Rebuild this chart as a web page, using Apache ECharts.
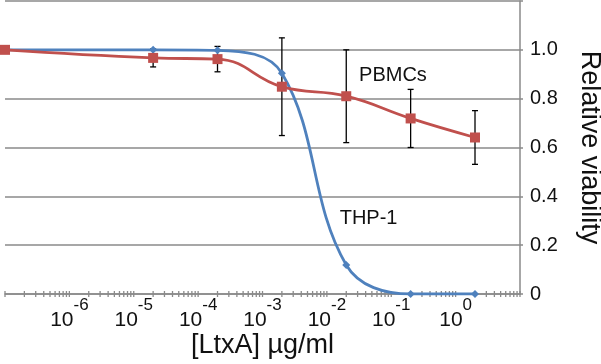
<!DOCTYPE html>
<html>
<head>
<meta charset="utf-8">
<script src="https://cdn.jsdelivr.net/npm/echarts@6/dist/echarts.min.js"></script>
<style>
html,body{margin:0;padding:0;background:#fff;}
#chart{width:601px;height:364px;}
</style>
</head>
<body>
<div id="chart"></div>
<script>
// concentrations (µg/ml); first point is the untreated control placed at the axis minimum
var concentrations = [1e-7, 2e-5, 2e-4, 2e-3, 2e-2, 2e-1, 2];
var thp1Values = [1.0, 1.0, 0.998, 0.904, 0.119, 0.0, 0.0];
var pbmcValues = [1.0, 0.967, 0.962, 0.849, 0.810, 0.719, 0.641];
var pbmcErrors = [0, 0.037, 0.052, 0.2, 0.19, 0.119, 0.11];
var yTickLabels = ['0', '0.2', '0.4', '0.6', '0.8', '1.0', ''];
var decadeExponents = [-7, -6, -5, -4, -3, -2, -1, 0];
var minorMultipliers = [1, 2, 3, 4, 5, 6, 7, 8, 9];
var annotations = [
  {text: 'PBMCs', x: 0.0316, y: 0.893},
  {text: 'THP-1', x: 0.0158, y: 0.311}
];

var GREY = '#8a8a8a';
var tickValues = [];
decadeExponents.forEach(function (e) {
  minorMultipliers.forEach(function (m) { tickValues.push([m * Math.pow(10, e), 0]); });
});
tickValues.push([10, 0]);

function pair(xs, ys) { return xs.map(function (x, i) { return [x, ys[i]]; }); }

var chart = echarts.init(document.getElementById('chart'), null, {renderer: 'canvas'});
chart.setOption({
  animation: false,
  backgroundColor: '#fff',
  textStyle: {fontFamily: 'Liberation Sans, Arial, sans-serif'},
  grid: {left: 5, right: 81, top: 1, bottom: 70, outerBoundsMode: 'none', containLabel: false},
  xAxis: {
    type: 'log', logBase: 10, min: 1e-7, max: 10,
    name: '[LtxA] µg/ml', nameLocation: 'middle', nameGap: 38, nameMoveOverlap: false,
    nameTextStyle: {fontSize: 27, color: '#111', fontFamily: 'Liberation Sans'},
    axisLine: {show: true, lineStyle: {color: GREY, width: 1.5}},
    axisTick: {show: false},
    splitLine: {show: false},
    axisLabel: {
      margin: 3,
      formatter: function (v) {
        var e = Math.round(Math.log10(v));
        if (e < -6 || e > 0) return '';
        return '{b|10}{s|' + e + '}';
      },
      rich: {
        b: {fontSize: 21, lineHeight: 34, verticalAlign: 'bottom', color: '#111', fontFamily: 'Liberation Sans'},
        s: {fontSize: 17, lineHeight: 20, verticalAlign: 'top', color: '#111', fontFamily: 'Liberation Sans'}
      }
    }
  },
  yAxis: {
    type: 'value', position: 'right', min: 0, max: 1.2, interval: 0.2,
    name: 'Relative viability', nameLocation: 'middle', nameRotate: -90, nameGap: 56, nameMoveOverlap: false,
    nameTextStyle: {fontSize: 27, color: '#111', fontFamily: 'Liberation Sans'},
    axisLine: {show: true, lineStyle: {color: GREY, width: 1.5}},
    axisTick: {show: true, length: 3, lineStyle: {color: GREY, width: 1.5}},
    splitLine: {show: true, lineStyle: {color: GREY, width: 1.5}},
    axisLabel: {
      margin: 10, fontSize: 20, color: '#111',
      formatter: function (v) { return yTickLabels[Math.round(v / 0.2)]; }
    }
  },
  series: [
    {
      type: 'custom', name: 'ticks', z: 1, silent: true,
      data: tickValues,
      encode: {x: 0, y: 1},
      clip: false,
      renderItem: function (params, api) {
        var p = api.coord([api.value(0), 0]);
        return {type: 'line', shape: {x1: p[0], y1: p[1] - 3, x2: p[0], y2: p[1] + 3},
          style: {stroke: GREY, lineWidth: 1.3}};
      }
    },
    {
      type: 'custom', name: 'errors', z: 2, silent: true,
      data: concentrations.map(function (x, i) { return [x, pbmcValues[i] - pbmcErrors[i], pbmcValues[i] + pbmcErrors[i], pbmcErrors[i]]; }),
      encode: {x: 0, y: [1, 2]},
      renderItem: function (params, api) {
        if (api.value(3) <= 0) return null;
        var lo = api.coord([api.value(0), api.value(1)]);
        var hi = api.coord([api.value(0), api.value(2)]);
        var w = 3;
        var st = {stroke: '#000', lineWidth: 1.3};
        return {type: 'group', children: [
          {type: 'line', shape: {x1: lo[0], y1: lo[1], x2: hi[0], y2: hi[1]}, style: st},
          {type: 'line', shape: {x1: lo[0] - w, y1: lo[1], x2: lo[0] + w, y2: lo[1]}, style: st},
          {type: 'line', shape: {x1: hi[0] - w, y1: hi[1], x2: hi[0] + w, y2: hi[1]}, style: st}
        ]};
      }
    },
    {
      type: 'line', name: 'THP-1', z: 3,
      data: pair(concentrations, thp1Values),
      smooth: 0.38,
      symbol: 'diamond', symbolSize: 8,
      lineStyle: {color: '#4F81BD', width: 2.8},
      itemStyle: {color: '#4F81BD'}
    },
    {
      type: 'line', name: 'PBMCs', z: 5,
      data: pair(concentrations, pbmcValues),
      smooth: 0.45,
      symbol: 'rect', symbolSize: 10,
      lineStyle: {color: '#C0504D', width: 2.8},
      itemStyle: {color: '#C0504D'},
      markPoint: {
        symbol: 'circle', symbolSize: 0, silent: true,
        label: {show: true, position: 'right', distance: 0, fontSize: 20, color: '#111',
          formatter: function (p) { return p.name; }},
        data: annotations.map(function (a) { return {name: a.text, coord: [a.x, a.y]}; })
      }
    }
  ]
});
</script>
</body>
</html>
